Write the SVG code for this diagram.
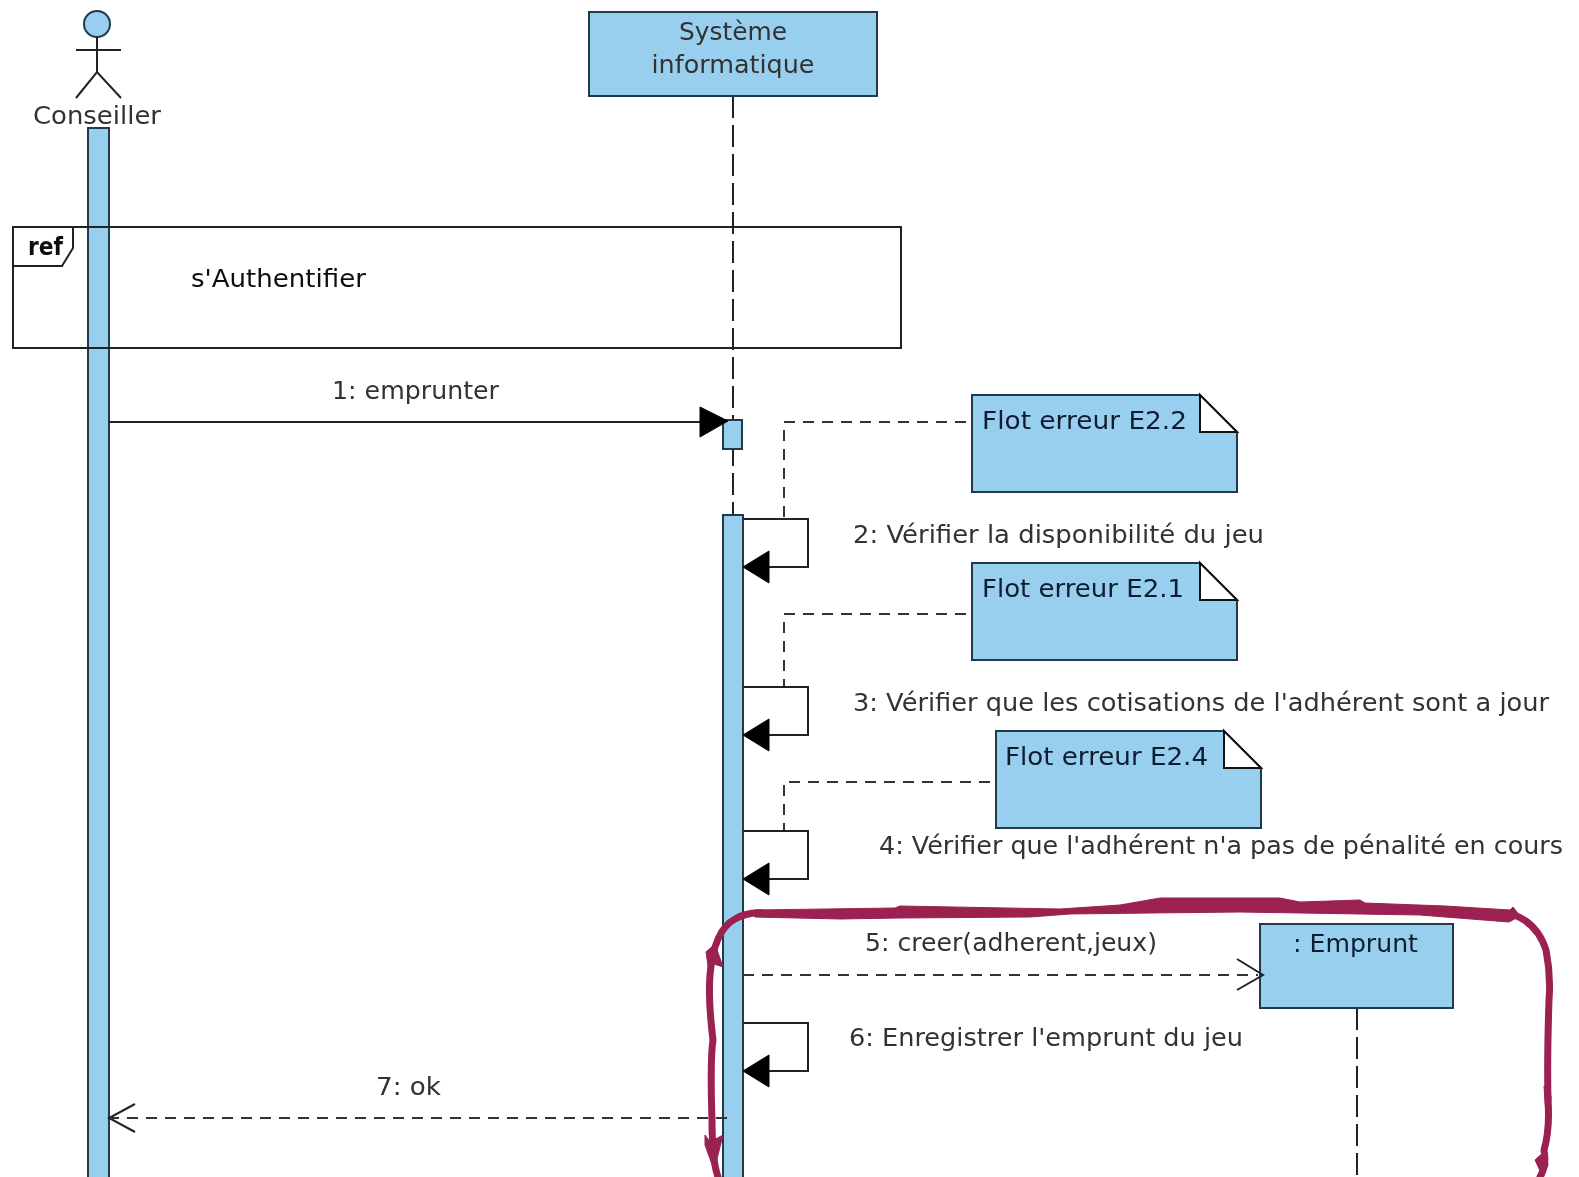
<svg xmlns="http://www.w3.org/2000/svg" width="1579" height="1177" viewBox="0 0 1579 1177">
<style>
.box{fill:#99cfee;stroke:#1f3a4a;stroke-width:2}
.ln{fill:none;stroke:#222;stroke-width:2}
.life{fill:none;stroke:#222;stroke-width:2;stroke-dasharray:22 7}
.dash{fill:none;stroke:#333;stroke-width:2;stroke-dasharray:11 8}
.t{font-family:"DejaVu Sans",sans-serif;font-size:25px;fill:#333;filter:url(#soft)}
.d{fill:#0c1c30}
.k{fill:#111}
.mid{text-anchor:middle}
.head{fill:#000;stroke:#000;stroke-width:1}
.red{fill:none;stroke:#9b2150;stroke-width:7;stroke-linejoin:round;stroke-linecap:round}
.redf{fill:#9b2150;stroke:#9b2150;stroke-width:1}
</style>
<defs>
<filter id="soft" x="-5%" y="-20%" width="110%" height="140%"><feGaussianBlur stdDeviation="0.5"/></filter>
</defs>
<rect width="1579" height="1177" fill="#fff"/>

<g id="lifeline-systeme"><path class="life" d="M733 96V515"/></g>
<g id="lifeline-emprunt"><path class="life" d="M1357 1008V1177"/></g>

<g id="conseiller">
<circle cx="97" cy="24" r="13" class="box"/>
<path class="ln" d="M97 37V72M76 50H121M76 98L97 72L121 98"/>
<text class="t" x="33" y="124" textLength="128" lengthAdjust="spacingAndGlyphs">Conseiller</text>
<rect class="box" x="88" y="128" width="21" height="1060"/>
</g>

<g id="ref-frame">
<rect x="13" y="227" width="888" height="121" fill="none" stroke="#222" stroke-width="2"/>
<path class="ln" d="M13 266H62L73 248V227"/>
<text class="t k" x="28" y="255" font-weight="bold" textLength="35" lengthAdjust="spacingAndGlyphs">ref</text>
<text class="t k" x="191" y="287" textLength="175" lengthAdjust="spacingAndGlyphs">s'Authentifier</text>
</g>

<g id="systeme">
<rect class="box" x="589" y="12" width="288" height="84"/>
<text class="t mid" x="733" y="40" textLength="108" lengthAdjust="spacingAndGlyphs">Système</text>
<text class="t mid" x="733" y="73" textLength="163" lengthAdjust="spacingAndGlyphs">informatique</text>
<rect class="box" x="723" y="420" width="19" height="29"/>
<rect class="box" x="723" y="515" width="20" height="672"/>
</g>

<g id="note-e22">
<path class="box" d="M972 395H1200L1237 432V492H972Z"/>
<path d="M1200 395L1237 432H1200Z" fill="#fff" stroke="#111" stroke-width="2"/>
<text class="t d" x="982" y="429" textLength="205" lengthAdjust="spacingAndGlyphs">Flot erreur E2.2</text>
</g>
<g id="note-e21">
<path class="box" d="M972 563H1200L1237 600V660H972Z"/>
<path d="M1200 563L1237 600H1200Z" fill="#fff" stroke="#111" stroke-width="2"/>
<text class="t d" x="982" y="597" textLength="202" lengthAdjust="spacingAndGlyphs">Flot erreur E2.1</text>
</g>
<g id="note-e24">
<path class="box" d="M996 731H1224L1261 768V828H996Z"/>
<path d="M1224 731L1261 768H1224Z" fill="#fff" stroke="#111" stroke-width="2"/>
<text class="t d" x="1005" y="765" textLength="203" lengthAdjust="spacingAndGlyphs">Flot erreur E2.4</text>
</g>

<g id="emprunt">
<rect class="box" x="1260" y="924" width="193" height="84"/>
<text class="t d" x="1293" y="952" textLength="125" lengthAdjust="spacingAndGlyphs">: Emprunt</text>
</g>

<g id="connectors">
<path class="ln" d="M109 422H702"/>
<path class="head" d="M700 407L728 421L700 437Z"/>
<text class="t" x="332" y="399" textLength="167" lengthAdjust="spacingAndGlyphs">1: emprunter</text>

<path class="dash" d="M966 422H784V519"/>
<path class="dash" d="M966 614H784V686"/>
<path class="dash" d="M990 782H784V830"/>

<path class="ln" d="M743 519H808V567H765"/>
<path class="head" d="M743 567L769 551V583Z"/>
<text class="t" x="853" y="543" textLength="411" lengthAdjust="spacingAndGlyphs">2: Vérifier la disponibilité du jeu</text>

<path class="ln" d="M743 687H808V735H765"/>
<path class="head" d="M743 735L769 719V751Z"/>
<text class="t" x="853" y="711" textLength="696" lengthAdjust="spacingAndGlyphs">3: Vérifier que les cotisations de l'adhérent sont a jour</text>

<path class="ln" d="M743 831H808V879H765"/>
<path class="head" d="M743 879L769 863V895Z"/>
<text class="t" x="879" y="854" textLength="684" lengthAdjust="spacingAndGlyphs">4: Vérifier que l'adhérent n'a pas de pénalité en cours</text>

<path class="dash" d="M743 975H1258"/>
<path class="ln" d="M1237 959L1263 975L1237 990"/>
<text class="t" x="865" y="951" textLength="292" lengthAdjust="spacingAndGlyphs">5: creer(adherent,jeux)</text>

<path class="ln" d="M743 1023H808V1071H765"/>
<path class="head" d="M743 1071L769 1055V1087Z"/>
<text class="t" x="849" y="1046" textLength="394" lengthAdjust="spacingAndGlyphs">6: Enregistrer l'emprunt du jeu</text>

<path class="dash" d="M727 1118H112"/>
<path class="ln" d="M135 1104L109 1118L135 1132"/>
<text class="t" x="376" y="1095" textLength="65" lengthAdjust="spacingAndGlyphs">7: ok</text>
</g>

<g id="highlight">
<path class="red" d="M718 1177Q712 1160 712 1120Q710 1060 713 1040Q708 1000 710 975Q714 930 735 919Q747 912 762 913"/>
<path class="red" d="M1511 914Q1537 922 1546 950Q1551 975 1549 1000Q1547 1060 1548 1100Q1550 1130 1544 1150Q1547 1165 1540 1177"/>
<path class="redf" d="M755 910L895 908L900 906L1060 909L1120 905L1160 898L1280 898L1300 902L1360 900L1365 903L1445 906L1510 910L1513 907L1520 916L1509 922L1420 915L1360 914L1240 912L1150 913L1070 914L1030 917L900 918L840 919L755 917Z"/>
<path class="redf" d="M706 952L715 944L723 967L714 964L709 972ZM705 1135L710 1142L723 1135L718 1155L714 1170L705 1145ZM1544 1086L1551 1096L1550 1120L1546 1115ZM1535 1160L1546 1150L1548 1165L1543 1177Z"/>
</g>
</svg>
